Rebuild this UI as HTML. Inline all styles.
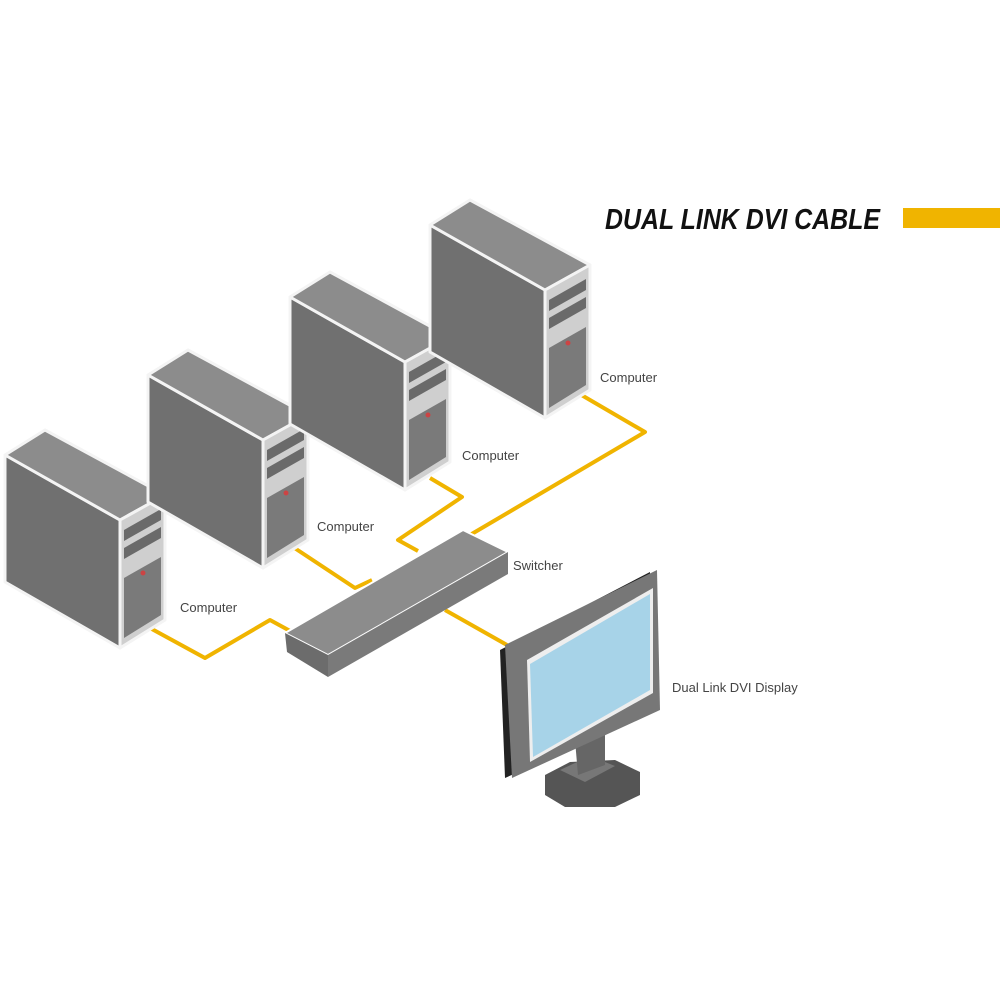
<!DOCTYPE html>
<html><head><style>
body{margin:0;background:#fff}
svg{display:block}
text{font-family:"Liberation Sans",sans-serif;fill:#444}
</style></head><body>
<svg width="1000" height="1000" viewBox="0 0 1000 1000" xmlns="http://www.w3.org/2000/svg">
<defs>
<g id="tower">
  <polygon points="5,455 120,520 120,648 5,582" fill="#707070" stroke="#f4f4f4" stroke-width="3" stroke-linejoin="round"/>
  <polygon points="5,455 45,430 165,495 120,520" fill="#8c8c8c" stroke="#f4f4f4" stroke-width="3" stroke-linejoin="round"/>
  <polygon points="120,520 165,495 165,620 120,648" fill="#cfcfcf" stroke="#f4f4f4" stroke-width="3" stroke-linejoin="round"/>
  <polygon points="124,530 161,509 161,520 124,541" fill="#6a6a6a"/>
  <polygon points="124,548 161,527 161,538 124,559" fill="#6a6a6a"/>
  <polygon points="124,578 161,557 161,615 124,638" fill="#7a7a7a"/>
  <circle cx="143" cy="573" r="2.5" fill="#c44"/>
</g>
</defs>
<g fill="none" stroke="#f0b400" stroke-width="4" stroke-linejoin="round">
  <polyline points="150,628 205,658 270,620 292,632"/>
  <polyline points="290,545 355,588 372,580"/>
  <polyline points="430,478 462,497 398,540 418,551"/>
  <polyline points="578,393 645,432 470,535"/>
  <polyline points="445,610 507,645"/>
</g>
<use href="#tower"/>
<use href="#tower" transform="translate(143,-80)"/>
<use href="#tower" transform="translate(285,-158)"/>
<use href="#tower" transform="translate(425,-230)"/>
<polygon points="285,633 463,530 508,552 328,655" fill="#8c8c8c" stroke="#fff" stroke-width="2"/>
<polygon points="328,655 508,552 508,574 328,677" fill="#7a7a7a"/>
<polygon points="285,633 328,655 328,677 287,652" fill="#6c6c6c"/>
<polygon points="545,775 570,762 615,760 640,772 640,795 615,807 565,807 545,795" fill="#555"/>
<polygon points="560,770 590,756 615,766 585,782" fill="#777"/>
<polygon points="575,740 605,735 605,765 578,775" fill="#666"/>
<polygon points="500,650 650,572 652,712 505,778" fill="#222"/>
<polygon points="505,645 657,570 660,710 512,778" fill="#777"/>
<polygon points="527,660 653,588 653,693 530,762" fill="#eee"/>
<polygon points="530,664 650,594 650,690 533,757" fill="#a7d3e8"/>
<text x="605" y="229" style="font-size:29px;font-weight:bold;font-style:italic;fill:#111" textLength="275" lengthAdjust="spacingAndGlyphs">DUAL LINK DVI CABLE</text>
<rect x="903" y="208" width="97" height="20" fill="#f0b400"/>
<g font-size="13">
<text x="600" y="382">Computer</text>
<text x="462" y="460">Computer</text>
<text x="317" y="531">Computer</text>
<text x="180" y="612">Computer</text>
<text x="513" y="570">Switcher</text>
<text x="672" y="692">Dual Link DVI Display</text>
</g>
</svg>
</body></html>
